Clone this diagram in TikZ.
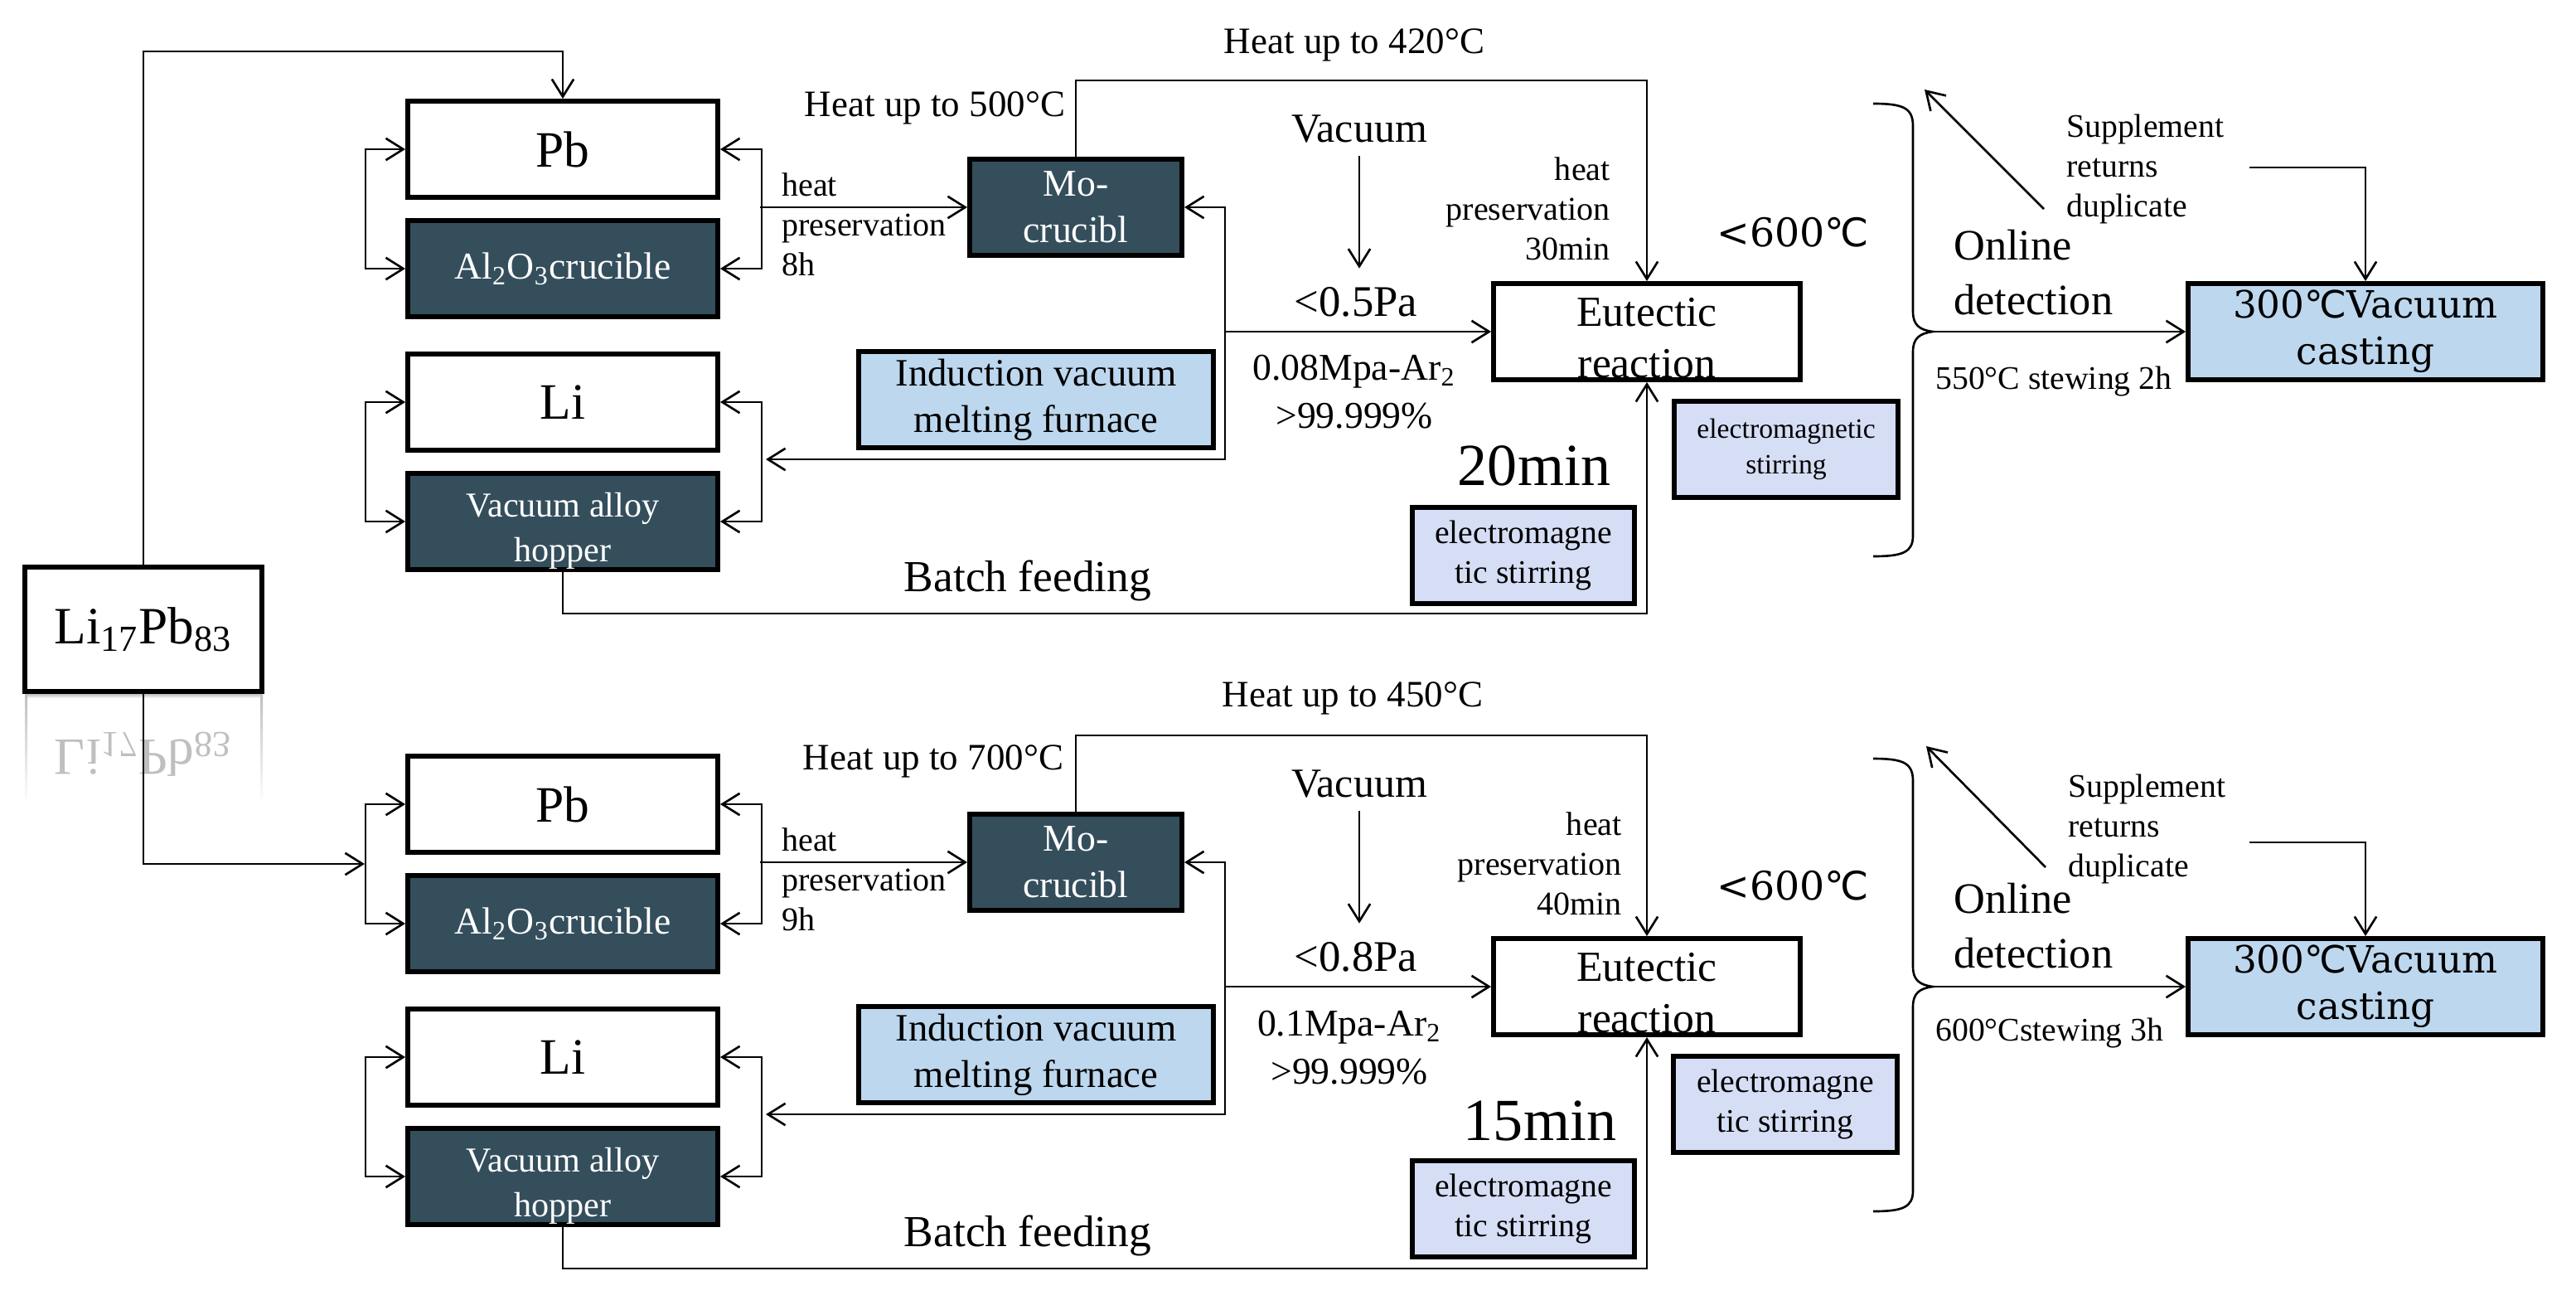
\documentclass[tikz,border=0pt]{standalone}
\usepackage{fontspec}
\usepackage{graphicx}
\setmainfont{Liberation Serif}
\newfontfamily\symfont{DejaVu Sans}
\newfontfamily\castfont{DejaVu Serif}
\usetikzlibrary{arrows.meta}

\definecolor{crucfill}{HTML}{344E5C}
\definecolor{furnfill}{HTML}{BDD7EE}
\definecolor{stirfill}{HTML}{D5DEF5}

\newcommand\degc{{\symfont ℃}}
\newcommand\fs[2]{\fontsize{#1}{#2}\selectfont}
\newcommand\lowered[2]{\raisebox{#1}[0pt][0pt]{\begin{tabular}{@{}c@{}}#2\end{tabular}}}

\tikzset{
  box/.style={draw, line width=1.7pt, fill=white, inner sep=0pt, align=center,
    minimum width=3.74cm, minimum height=1.16cm},
  darkbox/.style={box, fill=crucfill, text=white},
  bluebox/.style={box, fill=furnfill},
  stirbox/.style={box, fill=stirfill},
  note/.style={inner sep=0pt},
  >={Straight Barb[length=6pt,width=7.5pt]}
}

\begin{document}
\begin{tikzpicture}[x=0.02cm, y=-0.02cm, line width=0.75pt]
\useasboundingbox (0,0) rectangle (1554,786.5);

% mirror image under the source box
\shade[top color=black!30, bottom color=white] (15,418) rectangle (158.5,421);
\shade[top color=black!25, bottom color=white] (15,418) rectangle (16.5,485);
\shade[top color=black!25, bottom color=white] (157,418) rectangle (158.5,485);
\node[note, text=black!25, font=\fs{18}{20}] (lipbr) at (86.5,455)
  {\scalebox{1}[-1]{Li\textsubscript{17}Pb\textsubscript{83}}};

\node[box, minimum width=2.86cm, minimum height=1.5cm, font=\fs{18}{20}] (lipb) at (86.5,379.5)
  {Li\textsubscript{17}Pb\textsubscript{83}};

% first route
\node[box, font=\fs{17.5}{20}] (pb1) at (339.5,90) {Pb};
\node[darkbox, font=\fs{13}{15}] (al1) at (339.5,162) {Al\textsubscript{2}O\textsubscript{3}crucible};
\node[box, font=\fs{17.5}{20}] (li1) at (339.5,242.5) {Li};
\node[darkbox, font=\fs{12}{15.4}] (ho1) at (339.5,314.5) {\lowered{-6pt}{Vacuum alloy\\hopper}};
\node[darkbox, minimum width=2.56cm, font=\fs{13}{16}] (mo1) at (649,125) {Mo-\\crucibl};
\node[bluebox, minimum width=4.28cm, font=\fs{13.3}{16}] (fu1) at (625,241) {Induction vacuum\\melting furnace};
\node[box, minimum width=3.7cm, font=\fs{14.7}{17.6}] (eu1) at (993.5,200) {\lowered{-7pt}{Eutectic\\reaction}};
\node[stirbox, minimum width=2.7cm, font=\fs{9.6}{12}] (st1a) at (1077.5,271) {electromagnetic\\stirring};
\node[stirbox, minimum width=2.68cm, font=\fs{11.3}{13.7}] (st1b) at (919,335) {electromagne\\tic stirring};
\node[bluebox, minimum width=4.28cm, font=\castfont\fs{12.9}{16}] (vc1) at (1427,200) {300\degc{}Vacuum\\casting};

\node[note, font=\fs{12.8}{15}] (hu1a) at (817,27) {Heat up to 420°C};
\node[note, font=\fs{12.8}{15}] (hu1b) at (564,65) {Heat up to 500°C};
\node[note, anchor=west, align=left, font=\fs{11.4}{13.6}] (hp1) at (471,135.5) {heat\\preservation\\8h};
\node[note, font=\fs{14.2}{16}] (vac1) at (820,78) {Vacuum};
\node[note, font=\fs{15}{17}] (pa1) at (818,182) {<0.5Pa};
\node[note, align=center, font=\fs{13}{16.5}] (ar1) at (817,236.5) {0.08Mpa-Ar\textsubscript{2}\\>99.999\%};
\node[note, anchor=east, align=right, font=\fs{11.4}{13.6}] (hq1) at (972,126) {heat\\preservation\\30min};
\node[note, anchor=west, font=\castfont\fs{13.5}{16}] (lt1) at (1035,140) {<600\degc};
\node[note, font=\fs{20.5}{22}] (mi1) at (925.5,281) {20min};
\node[note, font=\fs{15.2}{17}] (bf1) at (620,350) {Batch feeding};
\node[note, anchor=west, align=left, font=\fs{14.9}{18.8}] (od1) at (1178,164.5) {Online\\detection};
\node[note, anchor=west, font=\fs{11.3}{13}] (sw1) at (1167,230) {550°C stewing 2h};
\node[note, anchor=west, align=left, font=\fs{11.3}{13.6}] (sp1) at (1246,102) {Supplement\\returns\\duplicate};

\coordinate (t1) at (86.5,31);
\draw[->] (lipb.north) -- (t1) -| (pb1.north);
\draw[<->] (pb1.west) -- ++(-24,0) |- (al1.west);
\draw[<->] (pb1.east) -- ++(25,0) |- (al1.east);
\draw[<->] (li1.west) -- ++(-24,0) |- (ho1.west);
\draw[<->] (li1.east) -- ++(25,0) |- (ho1.east);
\coordinate (b1) at (458.5,125);
\draw[->] (b1) -- (mo1.west);
\coordinate (j1) at (739,200);
\coordinate (r1) at (462,277);
\draw[->] (j1) |- (mo1.east);
\draw[->] (j1) -- (eu1.west);
\draw[->] (j1) |- (r1);
\draw[->] (mo1.north) -- ++(0,-46) -| (eu1.north);
\draw[->, shorten <=4pt, shorten >=6pt] (vac1.south) -- (vac1.south |- pa1.north);
\draw[->] (ho1.south) -- ++(0,25) -| (eu1.south);
\draw (1130,62.5) .. controls (1148,62.5) and (1154,65) .. (1154,76) -- (1154,188)
  .. controls (1154,196) and (1158,199) .. (1166,200)
  .. controls (1158,201) and (1154,204) .. (1154,212) -- (1154,323)
  .. controls (1154,333) and (1148,335.5) .. (1130,335.5);
\coordinate (tip1) at (1166,200);
\draw[->] (tip1) -- (vc1.west);
\coordinate (d1s) at (1233,126);
\coordinate (d1e) at (1161,54);
\draw[->] (d1s) -- (d1e);
\coordinate (s1) at (1357,101);
\draw[->] (s1) -| (vc1.north);

% second route
\node[box, font=\fs{17.5}{20}] (pb2) at (339.5,485) {Pb};
\node[darkbox, font=\fs{13}{15}] (al2) at (339.5,557) {Al\textsubscript{2}O\textsubscript{3}crucible};
\node[box, font=\fs{17.5}{20}] (li2) at (339.5,637.5) {Li};
\node[darkbox, font=\fs{12}{15.4}] (ho2) at (339.5,709.5) {\lowered{-6pt}{Vacuum alloy\\hopper}};
\node[darkbox, minimum width=2.56cm, font=\fs{13}{16}] (mo2) at (649,520) {Mo-\\crucibl};
\node[bluebox, minimum width=4.28cm, font=\fs{13.3}{16}] (fu2) at (625,636) {Induction vacuum\\melting furnace};
\node[box, minimum width=3.7cm, font=\fs{14.7}{17.6}] (eu2) at (993.5,595) {\lowered{-7pt}{Eutectic\\reaction}};
\node[stirbox, minimum width=2.7cm, font=\fs{11.3}{13.4}] (st2a) at (1077,666) {electromagne\\tic stirring};
\node[stirbox, minimum width=2.68cm, font=\fs{11.3}{13.7}] (st2b) at (919,729) {electromagne\\tic stirring};
\node[bluebox, minimum width=4.28cm, font=\castfont\fs{12.9}{16}] (vc2) at (1427,595) {300\degc{}Vacuum\\casting};

\node[note, font=\fs{12.8}{15}] (hu2a) at (816,421) {Heat up to 450°C};
\node[note, font=\fs{12.8}{15}] (hu2b) at (563,459) {Heat up to 700°C};
\node[note, anchor=west, align=left, font=\fs{11.4}{13.6}] (hp2) at (471,530.5) {heat\\preservation\\9h};
\node[note, font=\fs{14.2}{16}] (vac2) at (820,473) {Vacuum};
\node[note, font=\fs{15}{17}] (pa2) at (818,577) {<0.8Pa};
\node[note, align=center, font=\fs{13}{16.5}] (ar2) at (814,632) {0.1Mpa-Ar\textsubscript{2}\\>99.999\%};
\node[note, anchor=east, align=right, font=\fs{11.4}{13.6}] (hq2) at (979,521) {heat\\preservation\\40min};
\node[note, anchor=west, font=\castfont\fs{13.5}{16}] (lt2) at (1035,534) {<600\degc};
\node[note, font=\fs{20.5}{22}] (mi2) at (929,676) {15min};
\node[note, font=\fs{15.2}{17}] (bf2) at (620,745) {Batch feeding};
\node[note, anchor=west, align=left, font=\fs{14.9}{18.8}] (od2) at (1178,558.5) {Online\\detection};
\node[note, anchor=west, font=\fs{11.3}{13}] (sw2) at (1167,623) {600°Cstewing 3h};
\node[note, anchor=west, align=left, font=\fs{11.3}{13.6}] (sp2) at (1247,500) {Supplement\\returns\\duplicate};

\coordinate (l2) at (220,521);
\draw[->] (lipb.south) |- (l2);
\draw[<->] (pb2.west) -- ++(-24,0) |- (al2.west);
\draw[<->] (pb2.east) -- ++(25,0) |- (al2.east);
\draw[<->] (li2.west) -- ++(-24,0) |- (ho2.west);
\draw[<->] (li2.east) -- ++(25,0) |- (ho2.east);
\coordinate (b2) at (458.5,520);
\draw[->] (b2) -- (mo2.west);
\coordinate (j2) at (739,595);
\coordinate (r2) at (462,672);
\draw[->] (j2) |- (mo2.east);
\draw[->] (j2) -- (eu2.west);
\draw[->] (j2) |- (r2);
\draw[->] (mo2.north) -- ++(0,-46) -| (eu2.north);
\draw[->, shorten <=4pt, shorten >=6pt] (vac2.south) -- (vac2.south |- pa2.north);
\draw[->] (ho2.south) -- ++(0,25) -| (eu2.south);
\draw (1130,457.5) .. controls (1148,457.5) and (1154,460) .. (1154,471) -- (1154,583)
  .. controls (1154,591) and (1158,594) .. (1166,595)
  .. controls (1158,596) and (1154,599) .. (1154,607) -- (1154,718)
  .. controls (1154,728) and (1148,730.5) .. (1130,730.5);
\coordinate (tip2) at (1166,595);
\draw[->] (tip2) -- (vc2.west);
\coordinate (d2s) at (1234,523);
\coordinate (d2e) at (1162,450);
\draw[->] (d2s) -- (d2e);
\coordinate (s2) at (1357,508);
\draw[->] (s2) -| (vc2.north);
\end{tikzpicture}
\end{document}
